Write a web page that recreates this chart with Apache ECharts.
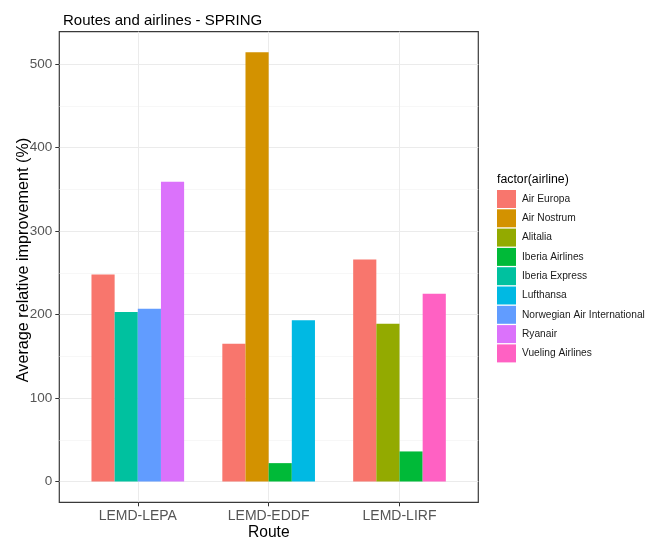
<!DOCTYPE html>
<html>
<head>
<meta charset="utf-8">
<script src="https://cdn.jsdelivr.net/npm/echarts@6/dist/echarts.min.js"></script>
<style>
html,body{margin:0;padding:0;background:#fff;}
#chart{width:646px;height:541px;}
</style>
</head>
<body>
<div id="chart"></div>
<script>
// ---- data ----
const routes = ['LEMD-LEPA', 'LEMD-EDDF', 'LEMD-LIRF'];
const airlines = ['Air Europa', 'Air Nostrum', 'Alitalia', 'Iberia Airlines', 'Iberia Express',
  'Lufthansa', 'Norwegian Air International', 'Ryanair', 'Vueling Airlines'];
const airEuropa      = [248, 165, 266];
const airNostrum     = [null, 514, null];
const alitalia       = [null, null, 189];
const iberiaAirlines = [null, 22, 36];
const iberiaExpress  = [203, null, null];
const lufthansa      = [null, 193, null];
const norwegian      = [207, null, null];
const ryanair        = [359, null, null];
const vueling        = [null, null, 225];
const yTicks = [0, 100, 200, 300, 400, 500];

// ---- styles ----
const palette = ['#F8766D', '#D39200', '#93AA00', '#00BA38', '#00C19F', '#00B9E3', '#619CFF', '#DB72FB', '#FF61C3'];
const FONT = 'Liberation Sans, Arial, sans-serif';
const PL = 59.3, PR = 478.3, PT = 31.7, PB = 502.3;   // panel
const Y0 = 481.5, YTOP = 64;                           // pixel rows of first/last y tick
const X1 = 137.8, X3 = 399.5;                          // first/last category centres

const valuesByAirline = [airEuropa, airNostrum, alitalia, iberiaAirlines, iberiaExpress,
  lufthansa, norwegian, ryanair, vueling];

// dodge: each route only shows airlines present there
const slotCount = 4;
const slots = [];
for (let s = 0; s < slotCount; s++) slots.push(routes.map(() => null));
routes.forEach((r, ri) => {
  let k = 0;
  airlines.forEach((a, ai) => {
    const v = valuesByAirline[ai][ri];
    if (v !== null && v !== undefined) {
      slots[k][ri] = { value: v, name: a, itemStyle: { color: palette[ai] } };
      k++;
    }
  });
});

const chart = echarts.init(document.getElementById('chart'), null, { renderer: 'canvas' });

const series = [];
slots.forEach((d, i) => {
  series.push({
    type: 'bar', name: 'slot' + i, xAxisIndex: 3, yAxisIndex: 3,
    data: d, barGap: '0%', barCategoryGap: '29.2%', clip: false,
    silent: true, emphasis: { disabled: true }
  });
});
airlines.forEach((a, ai) => {
  series.push({
    type: 'bar', name: a, xAxisIndex: 0, yAxisIndex: 0, data: [],
    itemStyle: { color: palette[ai] }
  });
});

const W = PR - PL, H = PB - PT;
const option = {
  animation: false,
  backgroundColor: '#ffffff',
  textStyle: { fontFamily: FONT },
  title: [
    { text: 'Routes and airlines - SPRING', left: 58, top: 8,
      textStyle: { fontFamily: FONT, fontSize: 15, fontWeight: 'normal', color: '#000' } },
    { text: 'factor(airline)', left: 492, top: 169,
      textStyle: { fontFamily: FONT, fontSize: 12.3, fontWeight: 'normal', color: '#000' } }
  ],
  legend: {
    data: airlines, orient: 'vertical', left: 492, top: 185,
    icon: 'rect', itemWidth: 19, itemHeight: 18, itemGap: 1.3,
    selectedMode: false,
    textStyle: { fontFamily: FONT, fontSize: 10.2, color: '#1a1a1a', padding: [0, 0, 0, 1] }
  },
  grid: [
    { left: PL, top: PT, width: W, height: H, show: true, borderColor: '#3a3a3a', borderWidth: 1.2,
      backgroundColor: 'transparent', containLabel: false, outerBoundsMode: 'none' },
    { left: PL, top: YTOP, width: W, height: Y0 - YTOP, containLabel: false, outerBoundsMode: 'none' },
    { left: X1, top: PT, width: X3 - X1, height: H, containLabel: false, outerBoundsMode: 'none' },
    { left: X1, top: YTOP, width: X3 - X1, height: Y0 - YTOP, containLabel: false, outerBoundsMode: 'none' }
  ],
  xAxis: [
    { gridIndex: 0, type: 'category', data: routes, name: 'Route', nameLocation: 'middle', nameGap: 22,
      nameTextStyle: { fontFamily: FONT, fontSize: 15.6, color: '#000' },
      axisLine: { show: false }, axisTick: { show: false }, axisLabel: { show: false }, splitLine: { show: false } },
    { gridIndex: 1, type: 'value', show: false },
    { gridIndex: 2, type: 'category', data: routes, boundaryGap: false,
      axisLine: { show: false },
      axisTick: { show: true, length: 4, lineStyle: { color: '#333', width: 1 } },
      axisLabel: { interval: 0, margin: 7, fontFamily: FONT, fontSize: 14, color: '#555' },
      splitLine: { show: true, lineStyle: { color: '#ebebeb', width: 1 } } },
    { gridIndex: 3, type: 'category', data: routes, boundaryGap: false, show: false }
  ],
  yAxis: [
    { gridIndex: 0, type: 'value', name: 'Average relative improvement (%)', nameLocation: 'middle', nameGap: 28,
      nameTextStyle: { fontFamily: FONT, fontSize: 16.2, color: '#000', padding: [0, 0, 0, 14] },
      axisLine: { show: false }, axisTick: { show: false }, axisLabel: { show: false }, splitLine: { show: false } },
    { gridIndex: 1, type: 'value', min: yTicks[0], max: yTicks[yTicks.length - 1], interval: yTicks[1] - yTicks[0],
      axisLine: { show: false },
      axisTick: { show: true, length: 4, lineStyle: { color: '#333', width: 1 } },
      axisLabel: { margin: 7, fontFamily: FONT, fontSize: 13.5, color: '#555' },
      splitLine: { show: true, lineStyle: { color: '#ebebeb', width: 1 } },
      minorTick: { show: false, splitNumber: 2 },
      minorSplitLine: { show: true, lineStyle: { color: '#f2f2f2', width: 0.6 } } },
    { gridIndex: 2, type: 'value', show: false },
    { gridIndex: 3, type: 'value', min: yTicks[0], max: yTicks[yTicks.length - 1], show: false }
  ],
  series: series
};
chart.setOption(option);
</script>
</body>
</html>
